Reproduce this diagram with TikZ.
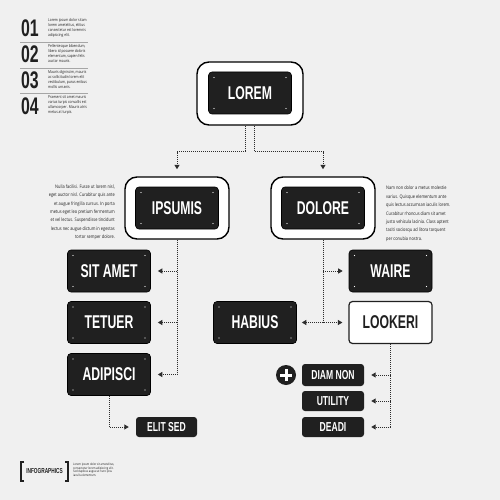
\documentclass[tikz,border=0pt]{standalone}
\usepackage{fontspec}
\setmainfont{Open Sans}
\newfontfamily\hf[FakeStretch=0.66]{Liberation Sans}
\newfontfamily\bodyf[FakeStretch=0.82]{Open Sans}
\usetikzlibrary{arrows.meta,calc}
\definecolor{bg}{RGB}{240,240,240}
\definecolor{boxc}{RGB}{32,32,32}
\definecolor{linec}{RGB}{45,45,45}
\definecolor{txtc}{RGB}{30,30,30}
\tikzset{
  cdots/.style={path picture={
    \foreach \p/\dx/\dy in {north west/5.5/-5.5, north east/-5.5/-5.5, south west/5.5/5.5, south east/-5.5/5.5}
      \fill[white] ([xshift=\dx pt,yshift=\dy pt]path picture bounding box.\p) circle (0.6pt);}},
  blk/.style={fill=boxc, draw=black, line width=0.6pt, rounded corners=3.5pt, text=white,
    font=\hf\bfseries\fontsize{18.5}{18.5}\selectfont, minimum width=83pt, minimum height=42pt,
    inner sep=0pt, cdots},
  wblk/.style={blk, fill=white, draw=boxc, line width=1.2pt, text=boxc},
  sblk/.style={fill=boxc, rounded corners=3pt, text=white,
    font=\hf\bfseries\fontsize{13}{13}\selectfont, minimum width=62pt, minimum height=21pt,
    inner sep=0pt},
  frame/.style={draw=black, line width=1.4pt, fill=white, rounded corners=12pt,
    minimum width=104pt, minimum height=62pt, inner sep=0pt},
  dl/.style={draw=linec, line width=1pt, dash pattern=on 1pt off 1pt,
    -{Triangle[length=4.5pt,width=5pt]}},
  para/.style={text=txtc, font=\bodyf\fontsize{4.8}{8.4}\selectfont, inner sep=0pt},
  legt/.style={text=txtc, font=\bodyf\fontsize{4}{5}\selectfont, inner sep=0pt, align=left, anchor=west},
  num/.style={text=boxc, font=\hf\bfseries\fontsize{24}{24}\selectfont, inner sep=0pt},
  sep/.style={draw=gray!70, line width=0.7pt}
}
\begin{document}
\begin{tikzpicture}[x=1pt,y=-1pt]
\useasboundingbox (0,0) rectangle (500,500);
\fill[bg] (0,0) rectangle (500,500);

% legend
\node[num] (n1) at (30,28.5) {01};
\node[num] (n2) at (30,54.5) {02};
\node[num] (n3) at (30,80) {03};
\node[num] (n4) at (30,106) {04};
\node[legt] (t1) at (48,28) {Lorem ipsum dolor sitam\\lorem ametelitus, elitius\\consectetur est loremnis\\adipiscing elit.};
\node[legt] (t2) at (48,54) {Pellentesque bibendum,\\libero id posuere doloris\\elementum, sapien felis\\auctor mauris.};
\node[legt] (t3) at (48,80) {Mauris dignissim, mauris\\ac sollicitudin lorem elit\\vestibulum, purus enibus\\mollis urnanis.};
\node[legt] (t4) at (48,105.5) {Praesent sit amet mauris\\varius turpis convallis est\\ullamcorper. Mauris atris\\metus at turpis.};
\draw[sep] (20,42) -- (88,42);
\draw[sep] (20,68) -- (88,68);
\draw[sep] (20,93) -- (88,93);

% top
\node[frame, minimum width=106pt, minimum height=63pt] (loremF) at (250,93.5) {};
\node[blk] (lorem) at (250,93) {LOREM};

\node[frame] (ipsF) at (177,208) {};
\node[blk] (ips) at (177,208) {IPSUMIS};
\node[frame] (dolF) at (323,208) {};
\node[blk] (dol) at (323,208) {DOLORE};

\draw[dl, shorten >=7pt] ([xshift=-4.5pt]loremF.south) -- ++(0,26) -| (ipsF.north);
\draw[dl, shorten >=7pt] ([xshift=4.5pt]loremF.south) -- ++(0,26) -| (dolF.north);

% paragraphs
\node[para, align=right, anchor=north east] (pl) at (115,184.5) {Nulla facilisi. Fusce ut lorem nisl,\\eget auctor nisl. Curabitur quis ante\\et augue fringilla cursus. In porta\\metus eget leo pretium fermentum\\et vel lectus. Suspendisse tincidunt\\lectus nec augue dictum in egestas\\tortor semper dolore.};
\node[para, align=left, anchor=north west] (pr) at (386,186) {Nam non dolor a metus molestie\\varius. Quisque elementum ante\\quis lectus accumsan iaculis lorem.\\Curabitur rhoncus diam sit amet\\justo vehicula lacinia. Class aptent\\taciti sociosqu ad litora torquent\\per conubia nostra.};

% left column
\node[blk] (sit) at (109,271) {SIT AMET};
\node[blk] (tet) at (109,322.5) {TETUER};
\node[blk] (adip) at (109,374.5) {ADIPISCI};
\node[sblk, minimum width=61pt, minimum height=20pt] (elit) at (166.5,427) {ELIT SED};

\draw[dl, shorten >=7pt] (ipsF.south) |- (adip.east);
\draw[dl, shorten >=7pt] (ipsF.south |- sit.east) -- (sit.east);
\draw[dl, shorten >=7pt] (ipsF.south |- tet.east) -- (tet.east);
\draw[dl, shorten >=7pt] (adip.south) |- (elit.west);

% right column
\node[blk] (wai) at (390.5,271) {WAIRE};
\node[blk] (hab) at (255,322.5) {HABIUS};
\node[wblk] (look) at (390.5,322.5) {LOOKERI};
\node[sblk, minimum height=22pt] (diam) at (333,375) {DIAM NON};
\node[sblk, minimum height=20pt] (util) at (333,401) {UTILITY};
\node[sblk, minimum height=20pt] (dead) at (333,427) {DEADI};

\draw[dl, shorten >=6pt] (dolF.south) |- (look.west);
\draw[dl, shorten >=6pt] (dolF.south |- wai.west) -- (wai.west);
\draw[dl, shorten >=5pt] (dolF.south |- hab.east) -- (hab.east);
\draw[dl, shorten >=7pt] (look.south) |- (dead.east);
\draw[dl, shorten >=7pt] (look.south |- diam.east) -- (diam.east);
\draw[dl, shorten >=7pt] (look.south |- util.east) -- (util.east);

% plus circle
\node[circle, fill=boxc, minimum size=20pt, inner sep=0pt] (plus) at (286,375) {};
\draw[white, line width=3pt] ([xshift=-6pt]plus.center) -- ([xshift=6pt]plus.center);
\draw[white, line width=3pt] ([yshift=-6pt]plus.center) -- ([yshift=6pt]plus.center);

% bottom label
\draw[boxc, line width=1.2pt] (24,462) -- (21,462) -- (21,481) -- (24,481);
\draw[boxc, line width=1.2pt] (65,462) -- (68,462) -- (68,481) -- (65,481);
\node[text=boxc, font=\hf\bfseries\fontsize{7.2}{7.2}\selectfont, inner sep=0pt] (info) at (44.5,471.5) {INFOGRAPHICS};
\node[text=txtc, font=\bodyf\fontsize{3.2}{3.9}\selectfont, inner sep=0pt, align=left, anchor=north west] (bt) at (73,462.5) {Lorem ipsum dolor sit ametelitus,\\consectetur lorem adipiscing elit.\\Sed dapibus augue at nunc ipsu\\iaculis elementum.};
\end{tikzpicture}
\end{document}
